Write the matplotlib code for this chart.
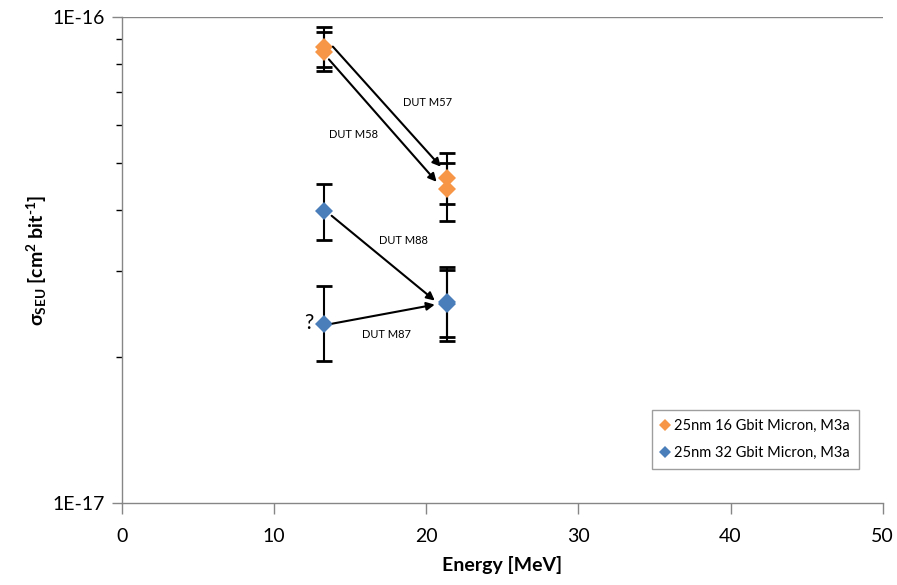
import matplotlib
matplotlib.use("Agg")
import matplotlib.pyplot as plt
from matplotlib.ticker import FixedLocator, FuncFormatter, NullFormatter, LogLocator

plt.rcParams["font.family"] = ["Lato", "DejaVu Sans"]
plt.rcParams["mathtext.fontset"] = "custom"
plt.rcParams["mathtext.rm"] = "Lato:bold"
plt.rcParams["mathtext.bf"] = "Lato:bold"
plt.rcParams["mathtext.it"] = "Lato:bold"

# 25nm 16 Gbit (orange)
e16 = [13.3, 13.3, 21.35, 21.35]
s16 = [8.69e-17, 8.48e-17, 4.67e-17, 4.42e-17]
s16_hi = [9.52e-17, 9.30e-17, 5.24e-17, 5.01e-17]
s16_lo = [7.90e-17, 7.74e-17, 4.12e-17, 3.80e-17]

# 25nm 32 Gbit (blue)
e32 = [13.3, 13.3, 21.35, 21.35]
s32 = [3.98e-17, 2.34e-17, 2.59e-17, 2.57e-17]
s32_hi = [4.53e-17, 2.79e-17, 3.06e-17, 3.02e-17]
s32_lo = [3.47e-17, 1.96e-17, 2.20e-17, 2.16e-17]

labels = ["25nm 16 Gbit Micron, M3a", "25nm 32 Gbit Micron, M3a"]

# DUT arrows: (name, start, end, label position)
arrows = [
    ("DUT M57", (13.86, 8.69e-17), (20.96, 4.92e-17), (20.1, 6.66e-17)),
    ("DUT M58", (13.60, 8.18e-17), (20.68, 4.58e-17), (15.2, 5.72e-17)),
    ("DUT M88", (13.78, 3.90e-17), (20.56, 2.61e-17), (18.5, 3.47e-17)),
    ("DUT M87", (13.84, 2.34e-17), (20.56, 2.56e-17), (17.4, 2.22e-17)),
]

ORANGE = "#f79646"
BLUE = "#4a7ebb"
GREY = "#868686"


def errs(v, hi, lo):
    return [[a - b for a, b in zip(v, lo)], [b - a for a, b in zip(v, hi)]]


fig = plt.figure(figsize=(8.97, 5.85), dpi=100)
ax = fig.add_axes([0.136, 0.140, 0.848, 0.831])

for x, y, hi, lo, c, lab in [
    (e16, s16, s16_hi, s16_lo, ORANGE, labels[0]),
    (e32, s32, s32_hi, s32_lo, BLUE, labels[1]),
]:
    ax.errorbar(x, y, yerr=errs(y, hi, lo), fmt="none", ecolor="black",
                elinewidth=1.5, capsize=6, capthick=2, zorder=2)
    ax.plot(x, y, linestyle="none", marker="D", markersize=9, color=c,
            markeredgewidth=0, label=lab, zorder=3)

for name, start, end, lpos in arrows:
    ax.annotate("", xy=end, xytext=start,
                arrowprops=dict(arrowstyle="-|>", color="black", lw=1.5,
                                mutation_scale=12, shrinkA=0, shrinkB=0),
                zorder=4)
    ax.text(lpos[0], lpos[1], name, fontsize=8, ha="center", va="center")

ax.text(12.3, 2.35e-17, "?", fontsize=15, ha="center", va="center")

ax.set_yscale("log")
ax.set_xlim(0, 50)
ax.set_ylim(1e-17, 1e-16)
ax.xaxis.set_major_locator(FixedLocator([0, 10, 20, 30, 40, 50]))
ax.yaxis.set_major_locator(FixedLocator([1e-17, 1e-16]))
ax.yaxis.set_major_formatter(FuncFormatter(lambda v, p: "1E-16" if v > 5e-17 else "1E-17"))
ax.yaxis.set_minor_locator(LogLocator(base=10, subs=range(2, 10)))
ax.yaxis.set_minor_formatter(NullFormatter())

ax.tick_params(axis="both", labelsize=14, colors=GREY, labelcolor="black")
ax.tick_params(axis="x", length=8, width=1, pad=10)
ax.tick_params(axis="y", which="major", length=7, width=1, pad=5)
ax.tick_params(axis="y", which="minor", length=4, width=1)

for side in ["top", "right"]:
    ax.spines[side].set_visible(False)
for side in ["left", "bottom"]:
    ax.spines[side].set_color(GREY)
    ax.spines[side].set_linewidth(1)
ax.axhline(1e-16, color=GREY, lw=1, zorder=1)

ax.set_xlabel("Energy [MeV]", fontsize=14, fontweight="bold", labelpad=8)
ax.set_ylabel(r"$\sigma_{SEU}$ [cm$^{2}$ bit$^{\text{-}1}$]",
              fontsize=14, fontweight="bold", labelpad=3)

leg = ax.legend(loc="lower right", bbox_to_anchor=(0.978, 0.055), fontsize=10.5,
                frameon=True, fancybox=False, handlelength=0.5, handletextpad=0.4,
                borderpad=0.6, labelspacing=0.9, markerscale=0.65)
leg.get_frame().set_edgecolor(GREY)
leg.get_frame().set_linewidth(1)

fig.savefig("out.png", dpi=100)
